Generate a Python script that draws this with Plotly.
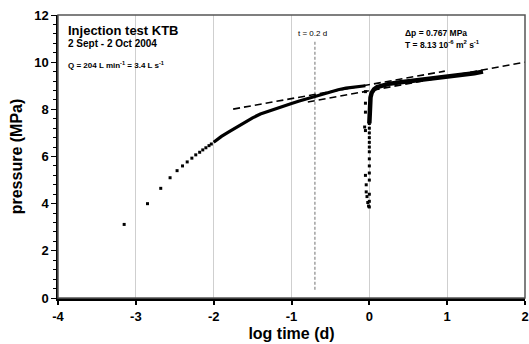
import plotly.graph_objects as go

# ---- data (log10 time in days, pressure MPa) ----
early_logt = [-3.15, -2.85, -2.68, -2.56, -2.47, -2.40, -2.34, -2.28, -2.23, -2.18, -2.14, -2.10, -2.06, -2.03]
early_p    = [3.12, 4.00, 4.65, 5.10, 5.40, 5.60, 5.77, 5.93, 6.07, 6.18, 6.28, 6.37, 6.46, 6.53]

build_logt = [-2.0, -1.9, -1.8, -1.7, -1.6, -1.5, -1.4, -1.3, -1.2, -1.1, -1.0, -0.9, -0.8, -0.7,
              -0.6, -0.5, -0.4, -0.3, -0.2, -0.1, -0.05]
build_p    = [6.60, 6.85, 7.05, 7.25, 7.45, 7.64, 7.80, 7.92, 8.04, 8.14, 8.25, 8.35, 8.45, 8.54,
              8.64, 8.74, 8.83, 8.90, 8.95, 8.98, 9.00]

drop_logt = [-0.05, -0.05, -0.05, -0.06, -0.05, -0.05, 0.00, -0.04, -0.04, -0.03, -0.02, -0.01]
drop_p    = [8.75, 8.26, 7.88, 7.25, 7.10, 5.20, 5.00, 4.80, 4.50, 4.30, 4.05, 3.90]

rise_col_logt = [0.0, 0.0, 0.0, 0.0, 0.0, 0.0, 0.0, 0.0, 0.0, 0.0, 0.0, 0.0, 0.0]
rise_col_p    = [3.86, 4.10, 4.40, 5.30, 5.60, 5.90, 6.20, 6.40, 6.60, 6.80, 7.00, 7.20, 7.40]

rise_logt = [0.0, 0.004, 0.008, 0.015, 0.03, 0.06, 0.1, 0.15, 0.25, 0.4, 0.6, 0.8, 1.0, 1.2, 1.35, 1.46]
rise_p    = [7.40, 7.90, 8.25, 8.50, 8.70, 8.85, 8.94, 9.00, 9.08, 9.15, 9.22, 9.30, 9.38, 9.46, 9.53, 9.60]

fitA_logt = [-1.75, 0.97]
fitA_p    = [8.01, 9.62]
fitB_logt = [-0.79, 2.0]
fitB_p    = [8.31, 10.0]

t02_logt = [-0.699, -0.699]
t02_p    = [0.35, 10.9]

x_ticks = [-4, -3, -2, -1, 0, 1, 2]
y_ticks = [0, 2, 4, 6, 8, 10, 12]

FONT = "Liberation Sans, Arial, sans-serif"

fig = go.Figure()

# vertical t = 0.2 d marker line
fig.add_trace(go.Scatter(x=t02_logt, y=t02_p, mode="lines",
                         line=dict(color="#707070", width=1, dash="3px,2px"),
                         hoverinfo="skip", showlegend=False))

# data
fig.add_trace(go.Scatter(x=early_logt, y=early_p, mode="markers",
                         marker=dict(color="black", size=3, symbol="square"),
                         showlegend=False))
fig.add_trace(go.Scatter(x=build_logt, y=build_p, mode="lines",
                         line=dict(color="black", width=3.2), showlegend=False))
fig.add_trace(go.Scatter(x=drop_logt, y=drop_p, mode="markers",
                         marker=dict(color="black", size=3, symbol="square"),
                         showlegend=False))
fig.add_trace(go.Scatter(x=rise_col_logt, y=rise_col_p, mode="markers",
                         marker=dict(color="black", size=3, symbol="square"),
                         showlegend=False))
fig.add_trace(go.Scatter(x=rise_logt, y=rise_p, mode="lines",
                         line=dict(color="black", width=4.5), showlegend=False))

# straight-line fits
fig.add_trace(go.Scatter(x=fitA_logt, y=fitA_p, mode="lines",
                         line=dict(color="black", width=1.6, dash="7px,4px"),
                         showlegend=False))
fig.add_trace(go.Scatter(x=fitB_logt, y=fitB_p, mode="lines",
                         line=dict(color="black", width=1.6, dash="7px,4px"),
                         showlegend=False))

# frame (top/right in grey)
fig.add_shape(type="rect", xref="paper", yref="paper", x0=0, y0=0, x1=1, y1=1,
              line=dict(color="#555555", width=1.5), layer="above")

ann = dict(xref="paper", yref="paper", showarrow=False, xanchor="left", yanchor="middle",
           font=dict(family=FONT, color="black"))
fig.add_annotation(**ann, x=0.018, y=(298 - 30) / 283, text="<b>Injection test KTB</b>",
                   font_size=13)
fig.add_annotation(**ann, x=0.018, y=(298 - 43.5) / 283, text="<b>2 Sept - 2 Oct 2004</b>",
                   font_size=10)
fig.add_annotation(**ann, x=0.018, y=(298 - 65) / 283,
                   text="<b>Q = 204 L min<sup>-1</sup> = 3.4 L s<sup>-1</sup></b>", font_size=8)
fig.add_annotation(**ann, x=(403 - 58) / 467, y=(298 - 33) / 283,
                   text="<b>\u0394p = 0.767 MPa</b>", font_size=8.5)
fig.add_annotation(**ann, x=(403 - 58) / 467, y=(298 - 45) / 283,
                   text="<b>T = 8.13 10<sup>-6</sup> m<sup>2</sup> s<sup>-1</sup></b>", font_size=8.5)
fig.add_annotation(**ann, x=(296 - 58) / 467, y=(298 - 33) / 283,
                   text="t = 0.2 d", font_size=8)

fig.update_layout(
    width=529, height=344,
    margin=dict(l=58, r=4, t=15, b=46),
    paper_bgcolor="white", plot_bgcolor="white",
    font=dict(family=FONT, color="black"),
    xaxis=dict(range=[-4, 2], tickvals=x_ticks, ticktext=[str(v) for v in x_ticks],
               automargin=False,
               showgrid=True, gridcolor="#cfcfcf", gridwidth=1.2, zeroline=False,
               showline=True, linecolor="black", linewidth=3,
               ticks="outside", ticklen=4, tickwidth=1.5, tickcolor="black",
               tickfont=dict(size=13, weight="bold"),
               title=dict(text="log time (d)", font=dict(size=16, weight="bold"), standoff=6)),
    yaxis=dict(range=[0, 12], tickvals=y_ticks, ticktext=[str(v) for v in y_ticks],
               automargin=False,
               showgrid=False, zeroline=False,
               showline=True, linecolor="black", linewidth=1.5,
               ticks="outside", ticklen=5, tickwidth=1.2, tickcolor="black",
               minor=dict(dtick=0.4, ticks="outside", ticklen=3, tickwidth=1, tickcolor="black"),
               tickfont=dict(size=13, weight="bold"),
               title=dict(text="pressure (MPa)", font=dict(size=16, weight="bold"), standoff=8)),
)

fig.write_html("out.html", config={"displayModeBar": False, "responsive": False},
               post_script="document.body.style.margin='0';")
